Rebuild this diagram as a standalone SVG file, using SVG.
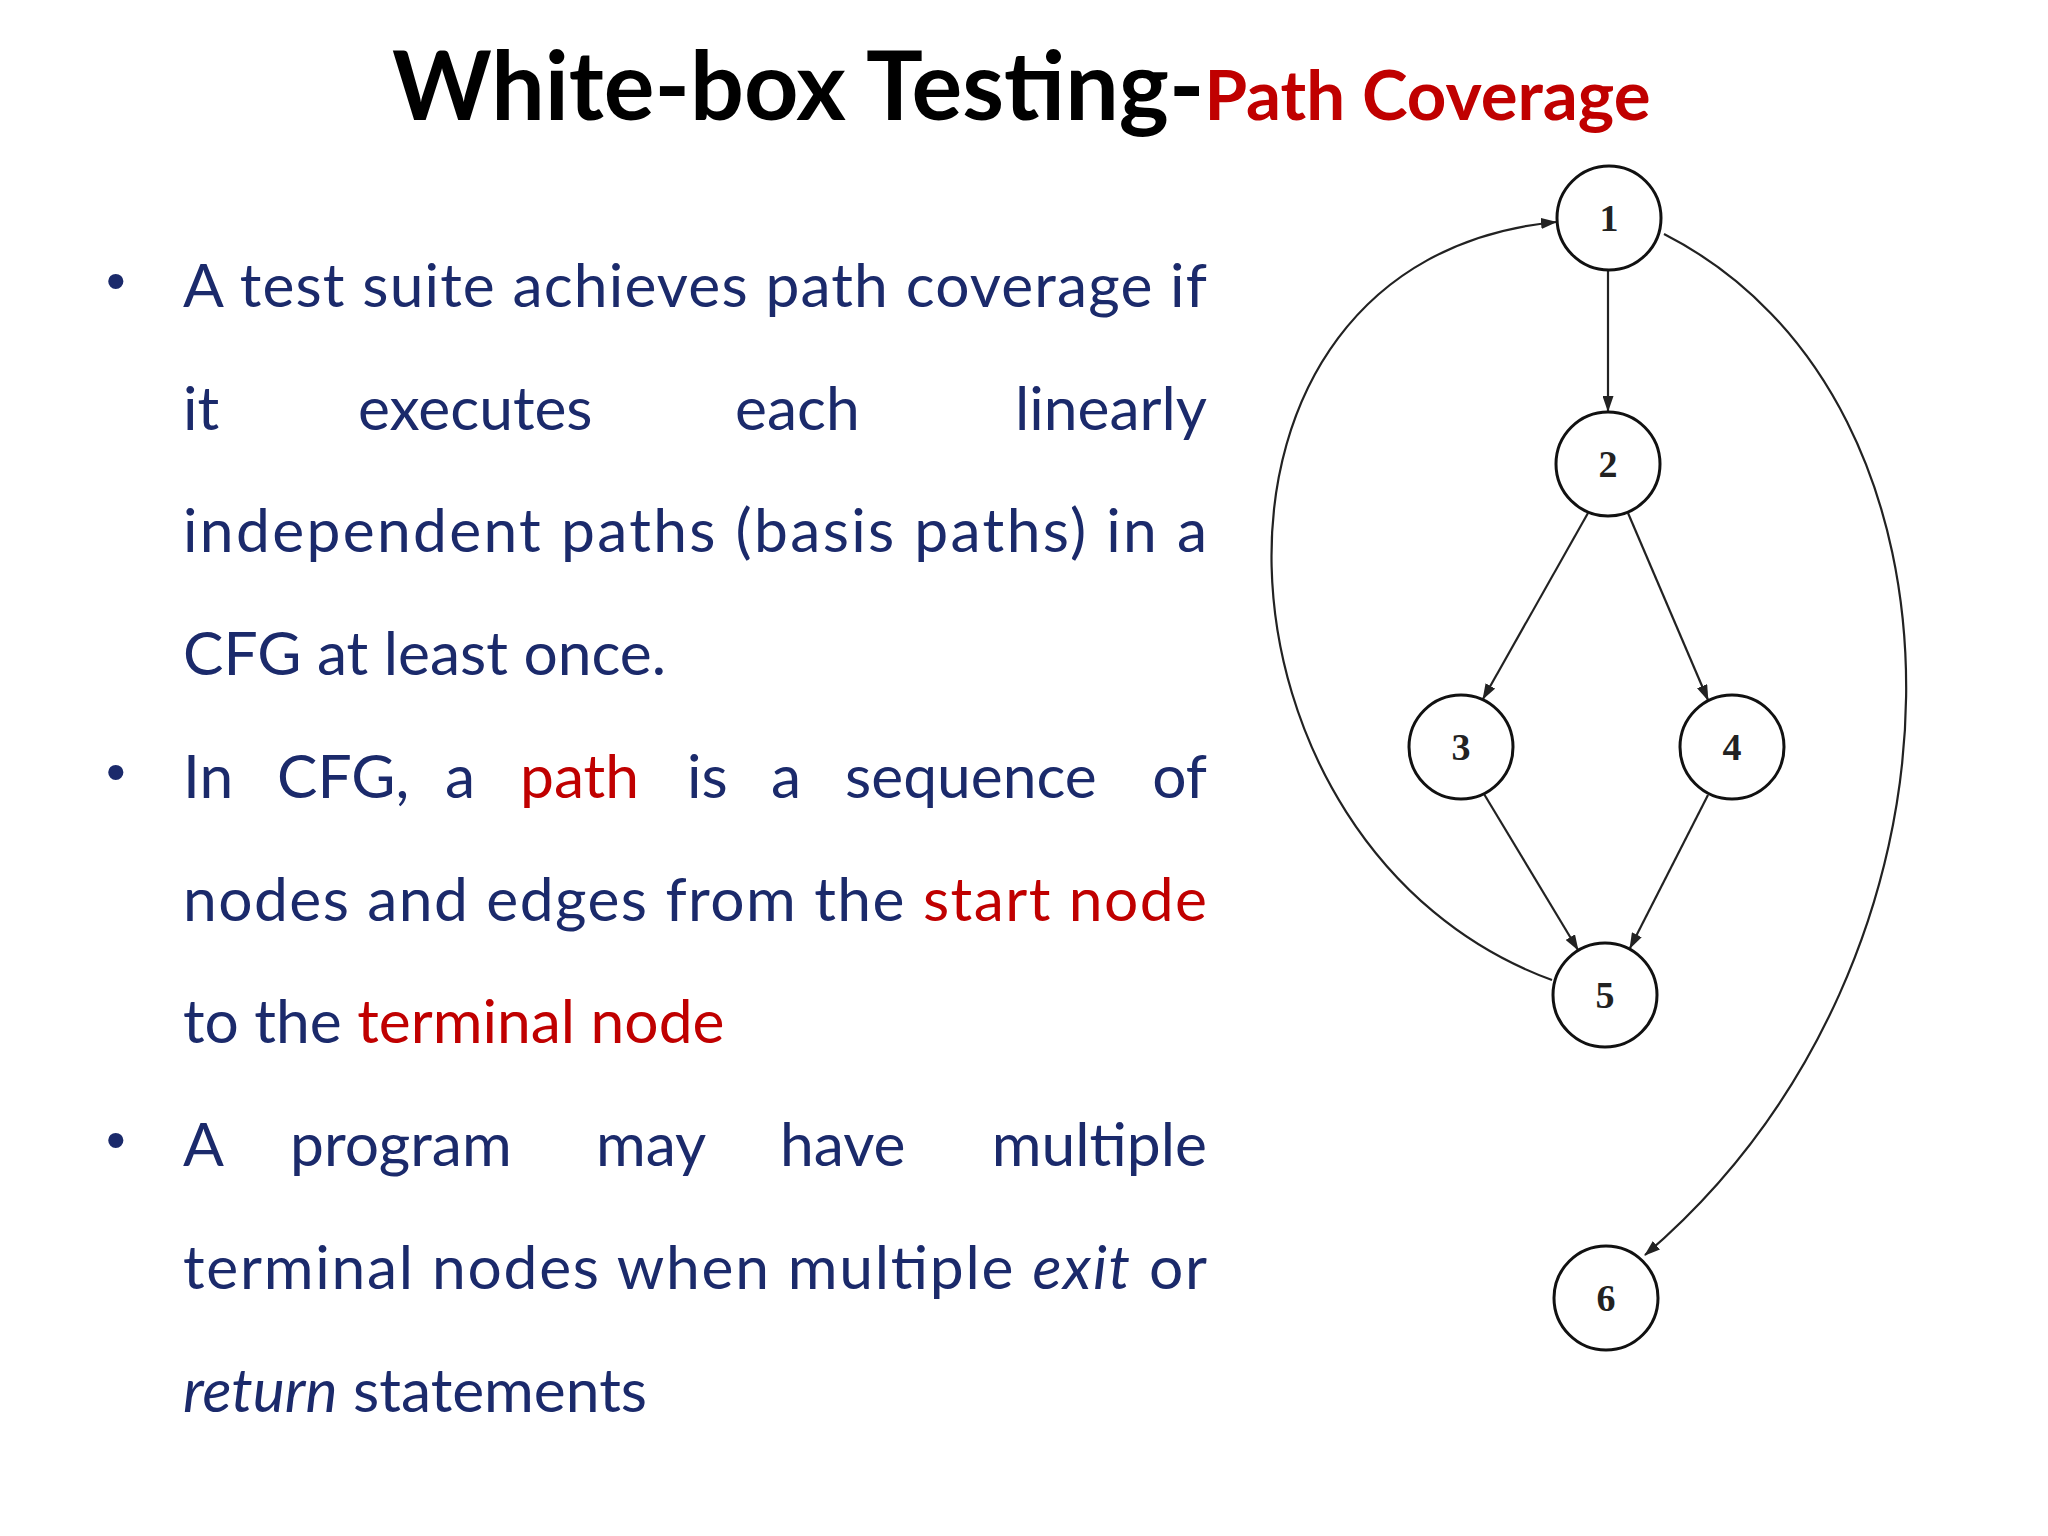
<svg xmlns="http://www.w3.org/2000/svg" width="2048" height="1536" viewBox="0 0 2048 1536">
<style>
.t{font-family:Lato,"Liberation Sans",sans-serif;font-size:60.5px;fill:#1b2a6b}
.r{fill:#c00000}
.b{font-family:"Liberation Sans",sans-serif;font-size:56px;fill:#1b2a6b}
.n{fill:#fff;stroke:#111;stroke-width:3}
.nl{font-family:"Liberation Serif",serif;font-size:38px;font-weight:bold;fill:#222;text-anchor:middle}
.e{fill:none;stroke:#222;stroke-width:2.2;marker-end:url(#a)}
</style>
<defs><marker id="a" markerWidth="16" markerHeight="11" refX="15" refY="5.5" orient="auto" markerUnits="userSpaceOnUse"><path d="M0,0 L16,5.5 L0,11 z" fill="#222"/></marker></defs>
<rect width="2048" height="1536" fill="#fff"/>
<text x="392" y="120" font-family="Lato,'Liberation Sans',sans-serif" font-weight="bold" font-size="95" fill="#000">White-box Testing-<tspan font-size="69" fill="#c00000">Path Coverage</tspan></text>
<g id="text">
<text class="b" x="106" y="300">•</text>
<text class="b" x="106" y="791">•</text>
<text class="b" x="106" y="1159">•</text>
<text class="t" x="183" y="307" textLength="1024" lengthAdjust="spacing">A test suite achieves path coverage if</text>
<text class="t" y="430"><tspan x="183">it</tspan><tspan x="358">executes</tspan><tspan x="735">each</tspan></text>
<text class="t" x="1207" y="430" text-anchor="end">linearly</text>
<text class="t" x="183" y="552" textLength="1024" lengthAdjust="spacing">independent paths (basis paths) in a</text>
<text class="t" x="183" y="675">CFG at least once.</text>
<text class="t" y="798"><tspan x="183">In</tspan><tspan x="277">CFG,</tspan><tspan x="445">a</tspan><tspan x="520" class="r">path</tspan><tspan x="687">is</tspan><tspan x="771">a</tspan><tspan x="845">sequence</tspan></text>
<text class="t" x="1207" y="798" text-anchor="end">of</text>
<text class="t" x="183" y="921" textLength="1024" lengthAdjust="spacing">nodes and edges from the <tspan class="r">start node</tspan></text>
<text class="t" x="183" y="1043">to the <tspan class="r">terminal node</tspan></text>
<text class="t" y="1166"><tspan x="183">A</tspan><tspan x="290">program</tspan><tspan x="596">may</tspan><tspan x="780">have</tspan></text>
<text class="t" x="1207" y="1166" text-anchor="end">multiple</text>
<text class="t" x="183" y="1289" textLength="1024" lengthAdjust="spacing">terminal nodes when multiple <tspan font-style="italic">exit</tspan> or</text>
<text class="t" x="183" y="1412"><tspan font-style="italic">return</tspan> statements</text>
</g>
<g id="edges">
<path class="e" d="M1608,270 L1608,411"/>
<path class="e" d="M1588,513 L1483,699"/>
<path class="e" d="M1628,513 L1708,700"/>
<path class="e" d="M1484,794 L1578,950"/>
<path class="e" d="M1708,795 L1630,948"/>
<path class="e" d="M1552,980 C1195,850 1160,260 1556,222"/>
<path class="e" d="M1664,234 C1990,400 1990,960 1645,1255"/>
</g>
<g id="n1"><circle class="n" cx="1609" cy="218" r="52"/><text class="nl" x="1609" y="231">1</text></g>
<g id="n2"><circle class="n" cx="1608" cy="464" r="52"/><text class="nl" x="1608" y="477">2</text></g>
<g id="n3"><circle class="n" cx="1461" cy="747" r="52"/><text class="nl" x="1461" y="760">3</text></g>
<g id="n4"><circle class="n" cx="1732" cy="747" r="52"/><text class="nl" x="1732" y="760">4</text></g>
<g id="n5"><circle class="n" cx="1605" cy="995" r="52"/><text class="nl" x="1605" y="1008">5</text></g>
<g id="n6"><circle class="n" cx="1606" cy="1298" r="52"/><text class="nl" x="1606" y="1311">6</text></g>
</svg>
